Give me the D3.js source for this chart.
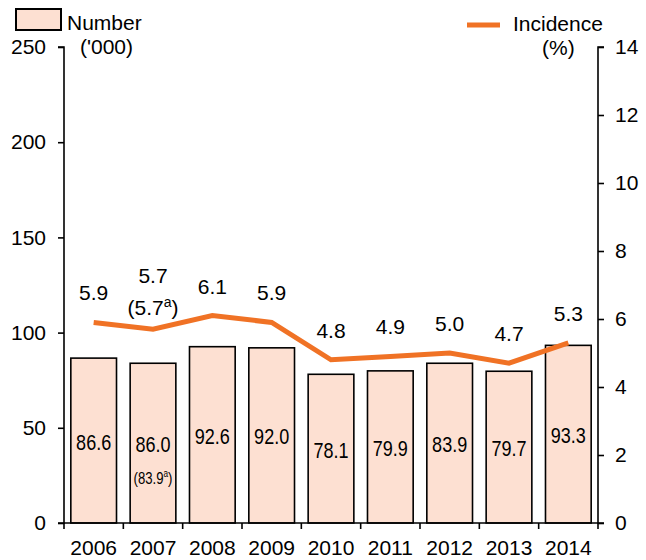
<!DOCTYPE html>
<html>
<head>
<meta charset="utf-8">
<script src="https://cdn.jsdelivr.net/npm/d3@7"></script>
<style>
  body { margin: 0; background: #fff; }
  text { font-family: "Liberation Sans", Arial, sans-serif; fill: #000; }
</style>
</head>
<body>
<div id="chart"></div>
<script>
// Chart data
const years = ["2006", "2007", "2008", "2009", "2010", "2011", "2012", "2013", "2014"];
const numbers = [86.6, 86.0, 92.6, 92.0, 78.1, 79.9, 83.9, 79.7, 93.3];
// bar heights as drawn (2007 bar is drawn at the revised figure)
const barHeights = [86.6, 83.9, 92.6, 92.0, 78.1, 79.9, 83.9, 79.7, 93.3];
const incidence = [5.9, 5.7, 6.1, 5.9, 4.8, 4.9, 5.0, 4.7, 5.3];
// footnote values only shown for 2007
const numberNotes = ["", "83.9", "", "", "", "", "", "", ""];
const incidenceNotes = ["", "5.7", "", "", "", "", "", "", ""];
const leftTicks = [0, 50, 100, 150, 200, 250];
const rightTicks = [0, 2, 4, 6, 8, 10, 12, 14];

const width = 646, height = 560;
const margin = { top: 47, bottom: 37, left: 64, right: 48 };
const fs = 21;
const narrow = 0.82;

const svg = d3.select("#chart").append("svg")
  .attr("width", width)
  .attr("height", height);

const x = d3.scaleBand()
  .domain(years)
  .range([margin.left, width - margin.right])
  .paddingInner(0.23)
  .paddingOuter(0.115);

const yLeft = d3.scaleLinear().domain([0, 250]).range([height - margin.bottom, margin.top]);
const yRight = d3.scaleLinear().domain([0, 14]).range([height - margin.bottom, margin.top]);

// Bars
svg.append("g").selectAll("rect")
  .data(barHeights)
  .join("rect")
  .attr("x", (d, i) => x(years[i]))
  .attr("y", d => yLeft(d))
  .attr("width", x.bandwidth())
  .attr("height", d => yLeft(0) - yLeft(d))
  .attr("fill", "#fde0d2")
  .attr("stroke", "#000")
  .attr("stroke-width", 1.6);

// Bar value labels (centred in bar, condensed)
const barLabels = svg.append("g");
numbers.forEach((d, i) => {
  const cx = x(years[i]) + x.bandwidth() / 2;
  const cy = (yLeft(barHeights[i]) + yLeft(0)) / 2;
  barLabels.append("text")
    .attr("transform", `translate(${cx},${cy + 9}) scale(${narrow},1)`)
    .attr("text-anchor", "middle")
    .attr("font-size", 22)
    .text(d.toFixed(1));
  if (numberNotes[i]) {
    const t = barLabels.append("text")
      .attr("transform", `translate(${cx},${cy + 41}) scale(${narrow},1)`)
      .attr("text-anchor", "middle")
      .attr("font-size", 16);
    t.append("tspan").text("(" + numberNotes[i]);
    t.append("tspan").attr("font-size", 10).attr("dy", -7).text("a");
    t.append("tspan").attr("dy", 7).text(")");
  }
});

// Incidence line
const line = d3.line()
  .x((d, i) => x(years[i]) + x.bandwidth() / 2)
  .y(d => yRight(d));

svg.append("path")
  .datum(incidence)
  .attr("d", line)
  .attr("fill", "none")
  .attr("stroke", "#f07225")
  .attr("stroke-width", 5)
  .attr("stroke-linejoin", "miter");

// Incidence labels
const lineLabels = svg.append("g");
incidence.forEach((d, i) => {
  const cx = x(years[i]) + x.bandwidth() / 2;
  const off = incidenceNotes[i] ? 46 : 22;
  lineLabels.append("text")
    .attr("x", cx).attr("y", yRight(d) - off)
    .attr("text-anchor", "middle")
    .attr("font-size", fs)
    .text(d.toFixed(1));
  if (incidenceNotes[i]) {
    const t = lineLabels.append("text")
      .attr("x", cx).attr("y", yRight(d) - 14)
      .attr("text-anchor", "middle")
      .attr("font-size", fs);
    t.append("tspan").text("(" + incidenceNotes[i]);
    t.append("tspan").attr("font-size", 14).attr("dy", -8).text("a");
    t.append("tspan").attr("dy", 8).text(")");
  }
});

// Axes
const axisLeft = d3.axisLeft(yLeft).tickValues(leftTicks).tickSize(6).tickPadding(12);
const axisRight = d3.axisRight(yRight).tickValues(rightTicks).tickSize(6).tickPadding(11);

const gl = svg.append("g")
  .attr("transform", `translate(${margin.left},0)`)
  .call(axisLeft);
const gr = svg.append("g")
  .attr("transform", `translate(${width - margin.right},0)`)
  .call(axisRight);

[gl, gr].forEach(g => {
  g.select(".domain").attr("stroke", "#000").attr("stroke-width", 1.6)
    .attr("d", g === gl
      ? `M-6,${yLeft(250)}H0V${yLeft(0)}H-6`
      : `M6,${yRight(14)}H0V${yRight(0)}H6`);
  g.selectAll(".tick line").attr("stroke", "#000").attr("stroke-width", 1.6);
  g.selectAll(".tick text").attr("font-size", fs).attr("font-family", "Liberation Sans, Arial, sans-serif").attr("fill", "#000");
});

// Bottom axis: baseline and tick marks between categories
const step = x.step();
const bottomY = yLeft(0);
const gb = svg.append("g");
gb.append("line")
  .attr("x1", margin.left).attr("x2", width - margin.right)
  .attr("y1", bottomY).attr("y2", bottomY)
  .attr("stroke", "#000").attr("stroke-width", 1.6);
d3.range(years.length + 1).forEach(i => {
  const tx = margin.left + i * step;
  gb.append("line")
    .attr("x1", tx).attr("x2", tx)
    .attr("y1", bottomY).attr("y2", bottomY + 6)
    .attr("stroke", "#000").attr("stroke-width", 1.6);
});
years.forEach((yr, i) => {
  gb.append("text")
    .attr("x", x(yr) + x.bandwidth() / 2)
    .attr("y", bottomY + 32)
    .attr("text-anchor", "middle")
    .attr("font-size", fs)
    .text(yr);
});

// Legend
const legend = svg.append("g");
legend.append("rect")
  .attr("x", 16).attr("y", 9).attr("width", 45).attr("height", 21)
  .attr("fill", "#fde0d2").attr("stroke", "#000").attr("stroke-width", 2);
legend.append("text").attr("x", 67).attr("y", 30).attr("font-size", fs).text("Number");
legend.append("text").attr("x", 80).attr("y", 54).attr("font-size", fs).text("('000)");

legend.append("line")
  .attr("x1", 467).attr("x2", 500).attr("y1", 25).attr("y2", 25)
  .attr("stroke", "#f07225").attr("stroke-width", 5);
legend.append("text").attr("x", 513).attr("y", 31).attr("font-size", fs).text("Incidence");
legend.append("text").attr("x", 542).attr("y", 55).attr("font-size", fs).text("(%)");
</script>
</body>
</html>
